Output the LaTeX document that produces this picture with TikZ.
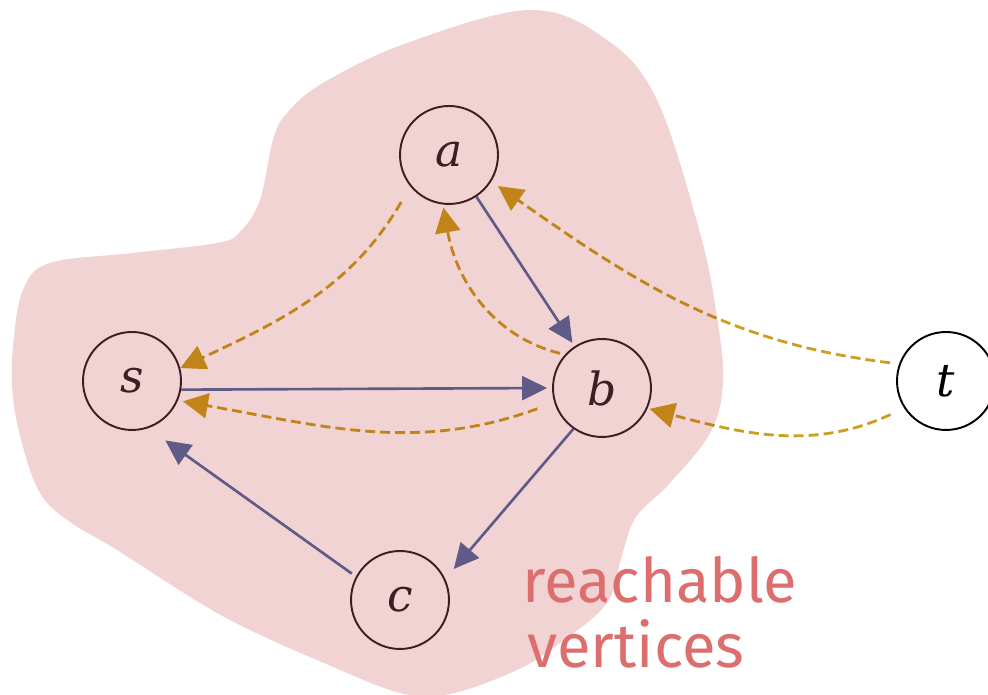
\documentclass[tikz,border=0pt]{standalone}
\usepackage{fontspec}
\newfontfamily\notefont{Fira Sans}
\newfontfamily\labelfont{DejaVu Serif}
\usetikzlibrary{arrows.meta}
\definecolor{regionfill}{HTML}{F2D3D3}
\definecolor{treeedge}{HTML}{656DA4}
\definecolor{backedge}{HTML}{CCA01E}
\definecolor{vertexline}{HTML}{41252A}
\definecolor{notecolor}{HTML}{DC6E6E}
\begin{document}
\begin{tikzpicture}[x=0.02cm,y=0.02cm,
  vertex/.style={circle,draw=vertexline,text=vertexline,line width=1.1pt,
    minimum size=1.96cm,inner sep=0pt,
    font=\labelfont\itshape\fontsize{26}{28}\selectfont},
  outervertex/.style={vertex,draw=black,text=black},
  tree/.style={draw=treeedge,line width=1.5pt,
    -{Triangle[length=0.5cm,width=0.48cm]}},
  back/.style={draw=backedge,line width=1.6pt,dash pattern=on 0.2cm off 0.1cm,
    -{Triangle[length=0.5cm,width=0.5cm]}},
  note/.style={anchor=base west,inner sep=0pt,text=notecolor,
    font=\notefont\fontsize{35}{40}\selectfont}
]
\fill[white] (0,0) rectangle (988,695);
\useasboundingbox (0,0) rectangle (988,695);

% vertices
\node[vertex] (a) at (449,540) {a};
\node[vertex] (s) at (132,314) {s};
\node[vertex] (b) at (602,307) {b};
\node[vertex] (c) at (400,95) {c};
\node[outervertex] (t) at (946,314) {t};

% tree edges
\draw[tree,shorten >=0.08cm] (a) -- (b);
\draw[tree,shorten >=0.1cm] (s.-10) -- (b.west);
\draw[tree,shorten >=0.26cm] (b.235) -- (c.25);
\draw[tree,shorten <=0.1cm,shorten >=0.42cm] (c.152) -- (s.-71);

% reverse edges
\draw[back,shorten <=0.36cm] (a.219) to[out=240,in=25] (s.15);
\draw[back,shorten <=0.1cm,shorten >=0.06cm] (b.138) to[out=166,in=280] (a.263);
\draw[back,shorten <=0.36cm,shorten >=0.1cm] (b.197) to[out=200,in=350] (s.-23);
\draw[back,shorten <=0.18cm,shorten >=0.16cm] (t.160) to[out=173,in=325] (a.-32);
\draw[back,shorten <=0.3cm,shorten >=0.04cm] (t.213) to[out=205,in=345] (b.-24);

% reachable region, tinting everything beneath it
\begin{scope}[blend mode=multiply]
\fill[regionfill] plot[smooth cycle,tension=0.6] coordinates {
  (530,685) (607,655) (657,595) (700,462) (717,378) (723,312) (710,262)
  (670,212) (636,178) (622,140) (607,92) (560,52) (517,25) (450,1) (400,2)
  (317,35) (250,65) (200,92) (117,145) (67,175) (40,202) (23,248) (13,298)
  (13,348) (23,405) (50,432) (133,442) (217,452) (240,463) (260,495)
  (273,555) (287,582) (323,612) (407,652)};
\end{scope}

\node[note] (note1) at (522,92) {reachable};
\node[note] (note2) at (527,27) {vertices};
\end{tikzpicture}
\end{document}
